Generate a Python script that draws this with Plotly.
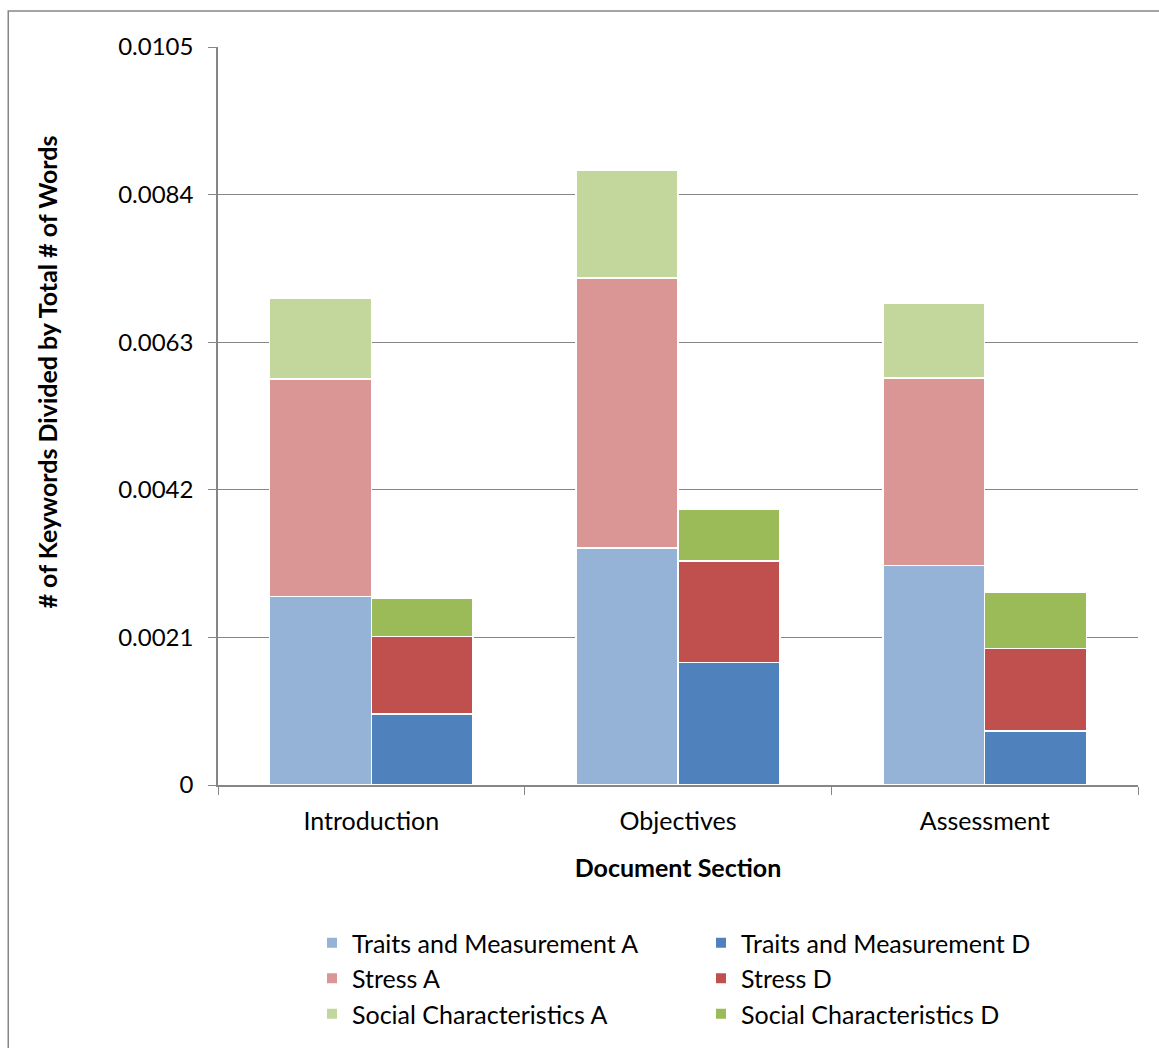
import plotly.graph_objects as go

# Document sections along the x axis
sections = ["Introduction", "Objectives", "Assessment"]

# Keyword frequency (keywords / total words), "A" and "D" variants per topic
traits_a = [0.00268, 0.00337, 0.00312]
stress_a = [0.00310, 0.00384, 0.00267]
social_a = [0.00115, 0.00154, 0.00107]
traits_d = [0.00101, 0.00174, 0.00077]
stress_d = [0.00110, 0.00145, 0.00117]
social_d = [0.00055, 0.00074, 0.00080]

y_ticks = [0, 0.0021, 0.0042, 0.0063, 0.0084, 0.0105]
y_tick_labels = ["0", "0.0021", "0.0042", "0.0063", "0.0084", "0.0105"]

FONT = "Lato, 'Open Sans', sans-serif"
BAR_W = 0.332
idx = list(range(len(sections)))
pos_a = [i - BAR_W / 2 for i in idx]
pos_d = [i + BAR_W / 2 for i in idx]

series = [
    ("Traits and Measurement A", traits_a, pos_a, "#95B3D7"),
    ("Traits and Measurement D", traits_d, pos_d, "#4F81BD"),
    ("Stress A", stress_a, pos_a, "#D99694"),
    ("Stress D", stress_d, pos_d, "#C0504D"),
    ("Social Characteristics A", social_a, pos_a, "#C3D69B"),
    ("Social Characteristics D", social_d, pos_d, "#9BBB59"),
]

fig = go.Figure()
for name, vals, xs, color in series:
    fig.add_trace(go.Bar(
        name=name, x=xs, y=vals, width=BAR_W,
        marker=dict(color=color, line=dict(color="white", width=1.5)),
    ))

grid = "#868686"
fig.update_layout(
    barmode="stack",
    width=1159, height=1048,
    margin=dict(l=218, r=21, t=47, b=263, autoexpand=False),
    paper_bgcolor="white", plot_bgcolor="white",
    font=dict(family=FONT, size=25, color="black"),
    showlegend=True,
    legend=dict(
        orientation="h", traceorder="normal",
        xref="container", yref="container",
        x=312 / 1159, xanchor="left", y=1 - 920 / 1048, yanchor="top",
        entrywidth=344, entrywidthmode="pixels",
        font=dict(family=FONT, size=25, color="black"),
        itemsizing="constant",
    ),
    xaxis=dict(
        range=[-0.5, 2.5],
        tickmode="array", tickvals=idx, ticktext=sections,
        ticks="", showgrid=False, zeroline=False,
        showline=True, linecolor=grid, linewidth=1.5,
        minor=dict(tickmode="array", tickvals=[-0.5, 0.5, 1.5, 2.5],
                   ticks="outside", ticklen=8, tickcolor=grid, showgrid=False),
        ticklabelstandoff=13,
        title=dict(text="<b>Document Section</b>", standoff=26,
                   font=dict(family=FONT, size=25)),
        tickfont=dict(size=25),
    ),
    yaxis=dict(
        range=[0, 0.0105],
        tickmode="array", tickvals=y_ticks, ticktext=y_tick_labels,
        ticks="outside", ticklen=8, tickcolor=grid,
        ticklabelstandoff=10,
        showgrid=True, gridcolor=grid, gridwidth=1,
        zeroline=False, showline=True, linecolor=grid, linewidth=1.5,
        tickfont=dict(size=24),
    ),
)

# Vertical axis title, centred on the chart frame rather than the plot area
fig.add_annotation(
    text="<b># of Keywords Divided by Total # of Words</b>",
    xref="paper", yref="paper", x=-0.1848, y=0.5603,
    xanchor="center", yanchor="middle", textangle=-90,
    showarrow=False, font=dict(family=FONT, size=25, color="black"),
)

# Outer chart frame
fig.add_shape(type="rect", xref="paper", yref="paper",
              x0=-0.228, x1=1.05, y0=-0.4, y1=1.0488,
              line=dict(color=grid, width=1.5), fillcolor="rgba(0,0,0,0)",
              layer="below")

fig.write_html("out.html")
